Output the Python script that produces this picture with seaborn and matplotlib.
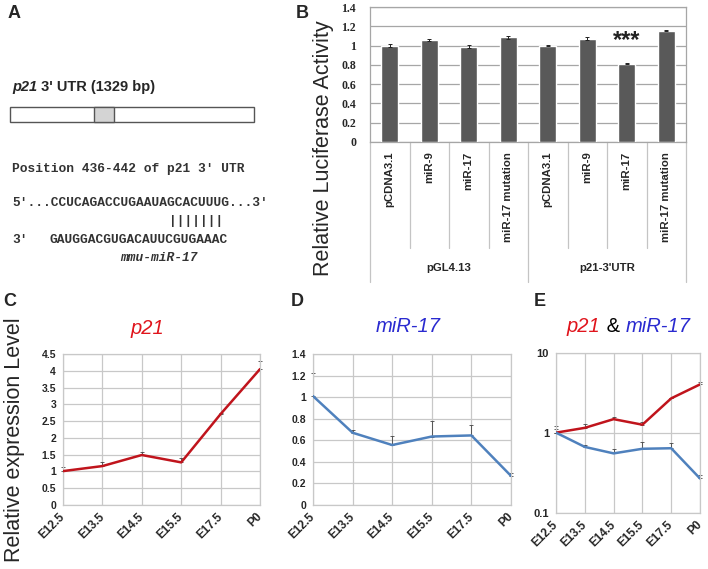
import numpy as np
import pandas as pd
import matplotlib
matplotlib.use("Agg")
import matplotlib.pyplot as plt
import seaborn as sns

# ---------------- data ----------------
# Panel B (luciferase)
b_groups = ["pGL4.13"] * 4 + ["p21-3'UTR"] * 4
b_treat = ["pCDNA3.1", "miR-9", "miR-17", "miR-17 mutation",
           "pCDNA3.1", "miR-9", "miR-17", "miR-17 mutation"]
b_values = [1.00, 1.06, 0.99, 1.085, 1.00, 1.07, 0.81, 1.153]
b_errors = [0.012, 0.012, 0.018, 0.018, 0.004, 0.016, 0.006, 0.004]
b_yticks = [0, 0.2, 0.4, 0.6, 0.8, 1.0, 1.2, 1.4]

# Panels C-E (expression)
stages = ["E12.5", "E13.5", "E14.5", "E15.5", "E17.5", "P0"]
p21_vals = [1.01, 1.16, 1.49, 1.27, 2.71, 4.05]
p21_err = [0.12, 0.13, 0.08, 0.12, 0.04, 0.24]
mir17_vals = [1.01, 0.67, 0.556, 0.635, 0.645, 0.27]
mir17_err = [0.21, 0.03, 0.08, 0.14, 0.10, 0.03]
c_yticks = [0, 0.5, 1, 1.5, 2, 2.5, 3, 3.5, 4, 4.5]
d_yticks = [0, 0.2, 0.4, 0.6, 0.8, 1.0, 1.2, 1.4]
e_yticks = [0.1, 1, 10]

# ---------------- style ----------------
sns.set_theme(style="white")
plt.rcParams["font.family"] = ["Liberation Sans", "DejaVu Sans"]

W, H = 708, 569
fig = plt.figure(figsize=(W / 100, H / 100), dpi=100)

def ax_at(x0, y0, x1, y1):
    return fig.add_axes([x0 / W, 1 - y1 / H, (x1 - x0) / W, (y1 - y0) / H])

def fx(x):
    return x / W

def fy(y):
    return 1 - y / H

RED_LINE = "#c0141c"
BLUE_LINE = "#4f81bd"
RED_T = "#e0141c"
BLUE_T = "#2a2ad0"
GRID = "#c8c8c8"

# ---------------- Panel A ----------------
axA = ax_at(0, 0, 320, 290)
axA.set_xlim(0, 320)
axA.set_ylim(290, 0)
axA.axis("off")
axA.text(14, 13, "A", fontsize=13, fontweight="bold", ha="center", va="center")
axA.text(302, 13, "B", fontsize=13, fontweight="bold", ha="center", va="center")
t1 = axA.text(12, 87, "p21", fontsize=10.5, fontweight="bold", fontstyle="italic",
              ha="left", va="center")
axA.annotate(" 3' UTR (1329 bp)", xy=(1, 0), xycoords=t1, va="bottom", ha="left",
             fontsize=10.5, fontweight="bold")
axA.add_patch(plt.Rectangle((10, 107), 244, 15, facecolor="white",
                            edgecolor="#555555", lw=1))
axA.add_patch(plt.Rectangle((94, 107), 20, 15, facecolor="#d4d4d4",
                            edgecolor="#555555", lw=1))
mono = dict(family=["Liberation Mono", "DejaVu Sans Mono"], fontsize=9.3,
            fontweight="bold", color="#333333", va="center")
axA.text(12, 169, "Position 436-442 of p21 3\u2032 UTR", ha="left", **mono)
axA.text(12, 203, "5'...CCUCAGACCUGAAUAGCACUUUG...3\u2032", ha="left", **mono)
axA.text(169, 221, "|||||||", ha="left", **mono)
axA.text(12, 240, "3'", ha="left", **mono)
axA.text(50, 240, "GAUGGACGUGACAUUCGUGAAAC", ha="left", **mono)
axA.text(120, 258, "mmu-miR-17", ha="left", fontstyle="italic", **mono)

# ---------------- Panel B ----------------
axB = ax_at(370, 7, 686, 142)
keys = [f"{g}|{t}|{i}" for i, (g, t) in enumerate(zip(b_groups, b_treat))]
dfB = pd.DataFrame({"key": keys, "value": b_values, "group": b_groups,
                    "treat": b_treat})
sns.barplot(data=dfB, x="key", y="value", order=keys, color="#595959",
            saturation=1, width=0.44, errorbar=None, ax=axB, zorder=3)
axB.errorbar(keys, b_values, yerr=b_errors, fmt="none", ecolor="#222222",
             elinewidth=0.7, capsize=1.5, capthick=0.7, zorder=4)
axB.set_ylim(0, 1.4)
axB.set_xlim(-0.5, 7.5)
axB.set_yticks(b_yticks)
axB.set_yticklabels([f"{v:g}" for v in b_yticks], fontsize=8.5,
                    fontweight="bold", family=["Liberation Serif", "DejaVu Serif"])
axB.yaxis.grid(True, color="#a6a6a6", lw=0.9, zorder=0)
axB.set_axisbelow(True)
axB.set_xticks(range(len(keys)))
axB.set_xticklabels(b_treat, rotation=90, fontsize=8.2, fontweight="bold",
                    va="top", ha="center")
axB.tick_params(axis="x", length=0, pad=7)
axB.tick_params(axis="y", length=0, pad=10)
axB.set_xlabel("")
axB.set_ylabel("")
for s in axB.spines.values():
    s.set_color("#a6a6a6")
    s.set_linewidth(0.9)
# category separators below the axis
sep_col = "#c4c4c4"
for k in range(1, 8):
    if k == 4:
        continue
    axB.plot([k - 0.5, k - 0.5], [0, -0.785], color=sep_col, lw=0.9,
             transform=axB.get_xaxis_transform(), clip_on=False)
for xs in (-0.5, 3.5, 7.5):
    axB.plot([xs, xs], [0, -1.037], color=sep_col, lw=0.9,
             transform=axB.get_xaxis_transform(), clip_on=False)
for gx, gname in ((1.5, "pGL4.13"), (5.5, "p21-3'UTR")):
    axB.text(gx, -0.933, gname, transform=axB.get_xaxis_transform(),
             ha="center", va="center", fontsize=8.2, fontweight="bold")
axB.text(6, 1.05, "***", ha="center", va="center", fontsize=17,
         fontweight="bold", color="#222222")
fig.text(fx(323), fy(148), "Relative Luciferase Activity", rotation=90,
         ha="center", va="center", fontsize=15.5)

# ---------------- Panels C-E ----------------
def style_line_ax(ax):
    ax.grid(True, color=GRID, lw=0.9)
    ax.set_axisbelow(True)
    for s in ax.spines.values():
        s.set_color(GRID)
        s.set_linewidth(0.9)
    ax.tick_params(length=0)
    ax.set_xlabel("")
    ax.set_ylabel("")
    ax.set_xlim(0, len(stages) - 1)
    ax.set_xticks(range(len(stages)))
    ax.set_xticklabels(stages, rotation=45, ha="right", va="center",
                       rotation_mode="anchor", fontsize=8.5, fontweight="bold")
    ax.tick_params(axis="x", pad=7)
    ax.tick_params(axis="y", pad=5)

def draw_series(ax, vals, errs, color):
    df = pd.DataFrame({"stage": stages, "val": vals})
    sns.lineplot(data=df, x="stage", y="val", sort=False, color=color,
                 lw=1.8, ax=ax, zorder=3)
    cont = ax.errorbar(stages, vals, yerr=[np.zeros(len(errs)), errs], fmt="none",
                       ecolor="#444444", elinewidth=0.6, capsize=1.5,
                       capthick=0.6, zorder=2)
    for ch in cont.get_children():
        ch.set_clip_on(False)

# C
axC = ax_at(63, 354, 260, 505)
draw_series(axC, p21_vals, p21_err, RED_LINE)
style_line_ax(axC)
axC.set_ylim(0, 4.5)
axC.set_yticks(c_yticks)
axC.set_yticklabels([f"{v:g}" for v in c_yticks], fontsize=7.5, fontweight="bold")
fig.text(fx(10), fy(302), "C", fontsize=13, fontweight="bold", ha="center", va="center")
fig.text(fx(147), fy(329), "p21", fontsize=14.5, fontstyle="italic",
         color=RED_T, ha="center", va="center")
fig.text(fx(15), fy(440), "Relative expression Level", rotation=90,
         ha="center", va="center", fontsize=15.5)

# D
axD = ax_at(313, 354, 511, 505)
draw_series(axD, mir17_vals, mir17_err, BLUE_LINE)
style_line_ax(axD)
axD.set_ylim(0, 1.4)
axD.set_yticks(d_yticks)
axD.set_yticklabels([f"{v:g}" for v in d_yticks], fontsize=7.5, fontweight="bold")
fig.text(fx(297), fy(302), "D", fontsize=13, fontweight="bold", ha="center", va="center")
fig.text(fx(408), fy(327), "miR-17", fontsize=14.5, fontstyle="italic",
         color=BLUE_T, ha="center", va="center")

# E
axE = ax_at(556, 353, 700, 513)
draw_series(axE, p21_vals, p21_err, RED_LINE)
draw_series(axE, mir17_vals, mir17_err, BLUE_LINE)
axE.set_yscale("log")
style_line_ax(axE)
axE.set_ylim(0.1, 10)
axE.set_yticks(e_yticks)
axE.set_yticklabels(["0.1", "1", "10"], fontsize=8, fontweight="bold")
axE.yaxis.set_minor_locator(matplotlib.ticker.NullLocator())
fig.text(fx(540), fy(302), "E", fontsize=13, fontweight="bold", ha="center", va="center")
tt1 = fig.text(fx(567), fy(327), "p21", fontsize=14.5, fontstyle="italic",
               color=RED_T, ha="left", va="center")
ann2 = axE.annotate(" & ", xy=(1, 0), xycoords=tt1, ha="left", va="bottom",
                    fontsize=14.5, color="black", annotation_clip=False)
axE.annotate("miR-17", xy=(1, 0), xycoords=ann2, ha="left", va="bottom",
             fontsize=14.5, fontstyle="italic", color=BLUE_T,
             annotation_clip=False)

fig.savefig("out.png", dpi=100)
